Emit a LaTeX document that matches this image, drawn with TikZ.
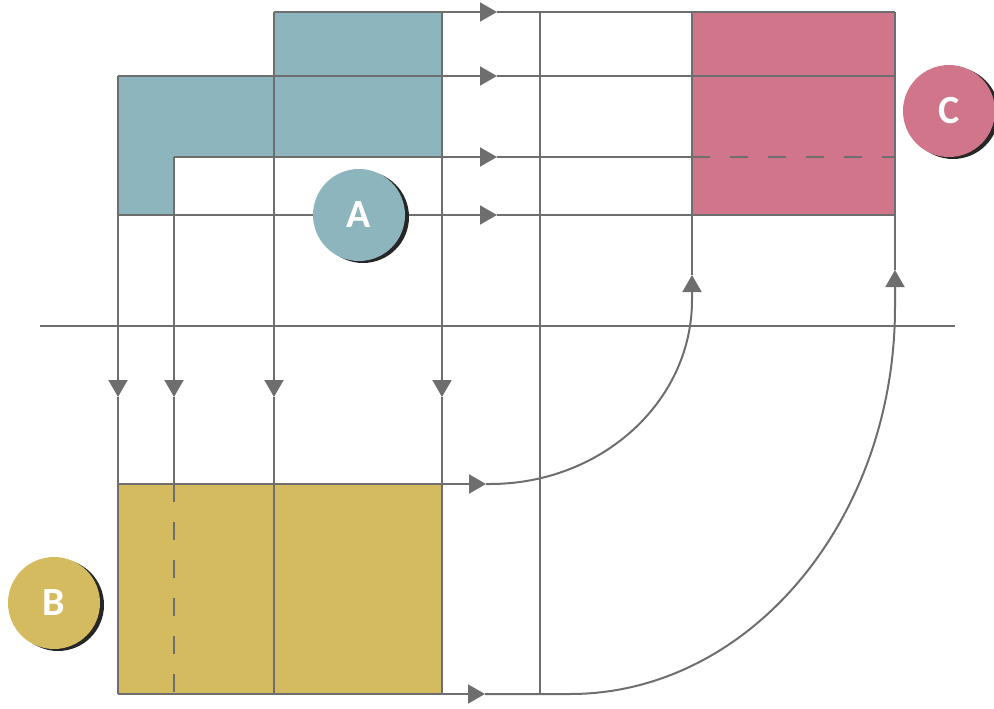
\documentclass[tikz,border=0pt]{standalone}
\usepackage{fontspec}
\setmainfont{Carlito}
\usetikzlibrary{arrows.meta}
\definecolor{lnc}{HTML}{6E6E6E}
\definecolor{blueA}{HTML}{8CB5BD}
\definecolor{yelB}{HTML}{D5BB60}
\definecolor{pinkC}{HTML}{D1758B}
\begin{document}
\begin{tikzpicture}[x=1pt,y=-1pt,
  ln/.style={draw=lnc, line width=2pt},
  arr/.style={-{Triangle[length=17pt,width=19pt]}},
  dsh/.style={dash pattern=on 18pt off 20pt},
  badge/.style={circle, minimum size=92pt, inner sep=0pt, text=white,
    font=\fontsize{40}{40}\selectfont\bfseries},
  shadow/.style={circle, minimum size=92pt, inner sep=0pt, fill=black!85}]
\useasboundingbox (0,0) rectangle (994,709);

% fills
\fill[blueA] (274,12) -- (442,12) -- (442,157) -- (174,157) -- (174,215)
  -- (118,215) -- (118,76) -- (274,76) -- cycle;
\fill[pinkC] (692,12) rectangle (895,215);
\fill[yelB] (118,484) rectangle (442,694);

% named points
\coordinate (h1s) at (274,12);  \coordinate (h1m) at (497,12);  \coordinate (h1e) at (895,12);
\coordinate (h2s) at (118,76);  \coordinate (h2m) at (497,76);  \coordinate (h2e) at (895,76);
\coordinate (h3s) at (174,157); \coordinate (h3m) at (497,157); \coordinate (h3e) at (692,157); \coordinate (h3d) at (895,157);
\coordinate (h4s) at (118,215); \coordinate (h4m) at (497,215); \coordinate (h4e) at (895,215);
\coordinate (v1s) at (118,76);  \coordinate (v1m) at (118,397); \coordinate (v1e) at (118,694);
\coordinate (v2s) at (174,157); \coordinate (v2m) at (174,397); \coordinate (v2b) at (174,484); \coordinate (v2e) at (174,694);
\coordinate (v3s) at (274,12);  \coordinate (v3m) at (274,397); \coordinate (v3e) at (274,694);
\coordinate (v4s) at (442,12);  \coordinate (v4m) at (442,397); \coordinate (v4e) at (442,694);
\coordinate (v5s) at (540,12);  \coordinate (v5e) at (540,694);
\coordinate (v6s) at (692,12);  \coordinate (v6e) at (692,275);
\coordinate (v7s) at (895,12);  \coordinate (v7e) at (895,270);
\coordinate (dl) at (40,326);   \coordinate (dr) at (955,326);
\coordinate (bt) at (118,484);  \coordinate (btm) at (486,484);
\coordinate (bb) at (118,694);  \coordinate (bbm) at (485,694);

% horizontal lines
\draw[ln,arr] (h1s) -- (h1m); \draw[ln] (h1m) -- (h1e);
\draw[ln,arr] (h2s) -- (h2m); \draw[ln] (h2m) -- (h2e);
\draw[ln,arr] (h3s) -- (h3m); \draw[ln] (h3m) -- (h3e);
\draw[ln,dsh] (h3e) -- (h3d);
\draw[ln,arr] (h4s) -- (h4m); \draw[ln] (h4m) -- (h4e);
\draw[ln] (dl) -- (dr);

% vertical lines
\draw[ln,arr] (v1s) -- (v1m); \draw[ln] (v1m) -- (v1e);
\draw[ln,arr] (v2s) -- (v2m); \draw[ln] (v2m) -- (v2b);
\draw[ln,dsh] (v2b) -- (v2e);
\draw[ln,arr] (v3s) -- (v3m); \draw[ln] (v3m) -- (v3e);
\draw[ln,arr] (v4s) -- (v4m); \draw[ln] (v4m) -- (v4e);
\draw[ln] (v5s) -- (v5e);
\draw[ln] (v6s) -- (v6e);
\draw[ln] (v7s) -- (v7e);

% B outputs and curves
\draw[ln,arr] (bt) -- (btm);
\draw[ln,arr] (btm) -- (490,484) .. controls (601.5,484) and (692,401.6) .. (692,300) -- (v6e);
\draw[ln,arr] (bb) -- (bbm);
\draw[ln,arr] (bbm) -- (570,694) .. controls (749.5,694) and (895,520) .. (895,307) -- (v7e);

% badges
\node[shadow] at (363,217) {};
\node[badge, fill=blueA] (A) at (359,215) {A};
\node[shadow] at (58,605) {};
\node[badge, fill=yelB] (B) at (54,603) {B};
\node[shadow] at (953,113) {};
\node[badge, fill=pinkC] (C) at (949,111) {C};
\end{tikzpicture}
\end{document}
